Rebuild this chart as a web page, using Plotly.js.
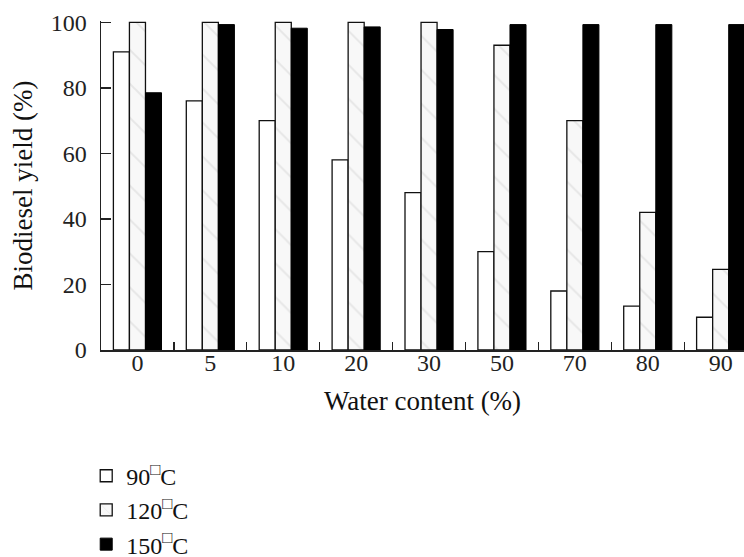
<!DOCTYPE html>
<html><head><meta charset="utf-8">
<script src="https://cdn.plot.ly/plotly-3.0.1.min.js"></script>
<style>html,body{margin:0;padding:0;background:#fff}#chart{width:744px;height:557px}</style>
</head><body><div id="chart"></div>
<script>
const categories = ['0','5','10','20','30','50','70','80','90'];
const yield90 = [91, 76, 70, 58, 48, 30, 18, 13.4, 10];
const yield120 = [100, 100, 100, 100, 100, 93, 70, 42, 24.6];
const yield150 = [78.5, 99.3, 98.2, 98.6, 97.8, 99.3, 99.3, 99.3, 99.3];
const seriesNames = ['90<sup>□</sup>C', '120<sup>□</sup>C', '150<sup>□</sup>C'];

const font = 'Liberation Serif, Times New Roman, serif';
const traces = [
  {type:'bar', x:categories, y:yield90, name:seriesNames[0], legendgroup:'a',
   marker:{color:'#ffffff', line:{color:'#111', width:1.3}}},
  {type:'bar', x:categories, y:yield120, name:seriesNames[1], legendgroup:'b',
   marker:{color:'#f7f7f7', line:{color:'#111', width:1.3},
     pattern:{shape:'\\', fgcolor:'#e6e6e6', bgcolor:'#f8f8f8', size:24, solidity:0.08}}},
  {type:'bar', x:categories, y:yield150, name:seriesNames[2], legendgroup:'c',
   marker:{color:'#000000', line:{color:'#000', width:1}}}
];
const layout = {
  width:744, height:557,
  margin:{l:101, r:0, t:21, b:207, autoexpand:false},
  paper_bgcolor:'#fff', plot_bgcolor:'#fff',
  barmode:'group', bargap:0.34, bargroupgap:0,
  font:{family:font, color:'#111', size:24},
  xaxis:{type:'category', range:[-0.5, 8.32], showline:true, linecolor:'#222', linewidth:1.5,
    ticks:'inside', tickson:'boundaries', ticklen:8, tickwidth:1.3, tickcolor:'#222',
    tickfont:{family:font, size:24, color:'#222'}, showgrid:false, zeroline:false,
    ticklabelstandoff:-9,
    title:{text:'Water content (%)', font:{family:font, size:27, color:'#111'}, standoff:16}},
  yaxis:{range:[0, 100.4], showline:true, linecolor:'#222', linewidth:1.5,
    ticks:'inside', ticklen:10, tickwidth:1.3, tickcolor:'#222', tickvals:[0,20,40,60,80,100],
    tickfont:{family:font, size:24, color:'#222'}, showgrid:false, zeroline:false,
    ticklabelstandoff:8,
    title:{text:'Biodiesel yield (%)', font:{family:font, size:27, color:'#111'}, standoff:10}},
  showlegend:true,
  legend:{x:-0.023, xanchor:'left', y:-0.315, yanchor:'top', traceorder:'grouped', tracegroupgap:0,
    font:{family:font, size:24, color:'#111'}, bgcolor:'rgba(0,0,0,0)'}
};
Plotly.newPlot('chart', traces, layout, {displayModeBar:false, staticPlot:true});
</script></body></html>
